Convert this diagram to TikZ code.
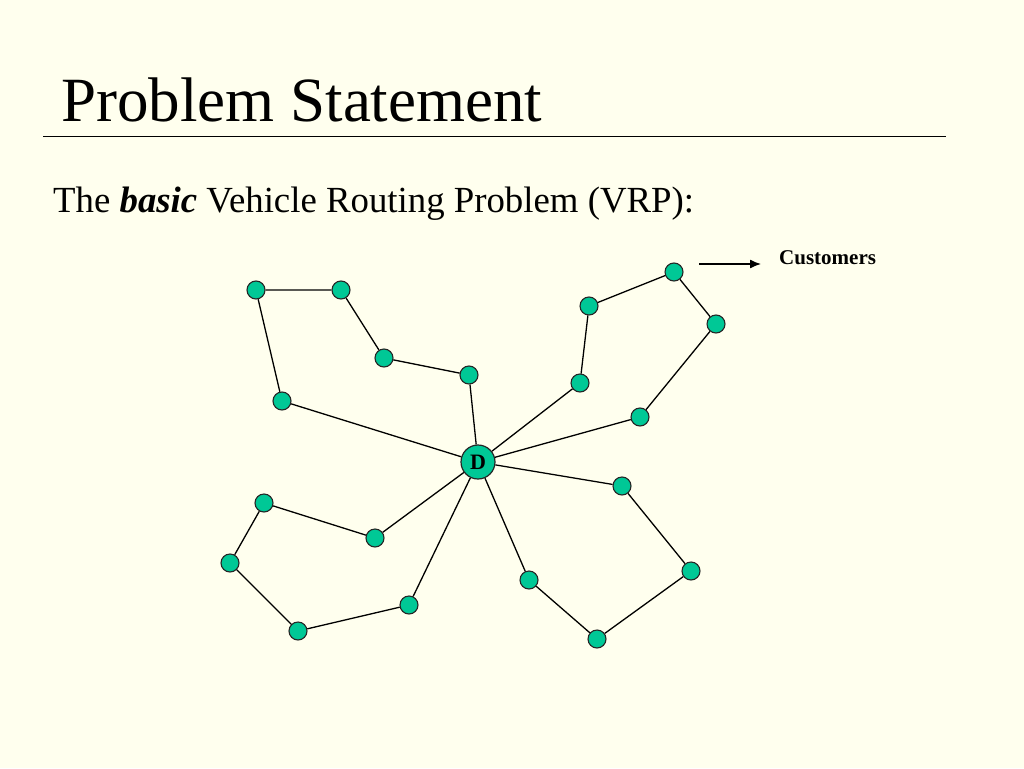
\documentclass[tikz,border=0pt]{standalone}
\usepackage{fontspec}
\setmainfont{Liberation Serif}
\usetikzlibrary{arrows.meta}
\definecolor{bg}{RGB}{255,255,238}
\definecolor{cust}{RGB}{0,200,150}
\tikzset{
  cnode/.style={circle,draw=black!85,fill=cust,line width=1.1pt,minimum size=18pt,inner sep=0pt},
  depot/.style={circle,draw=black!85,fill=cust,line width=1.2pt,minimum size=34pt,inner sep=0pt,font=\fontsize{22}{22}\selectfont\bfseries},
  edge/.style={line width=1.3pt,black}
}
\begin{document}
\begin{tikzpicture}[x=1pt,y=-1pt]
\fill[bg] (0,0) rectangle (1024,768);
\useasboundingbox (0,0) rectangle (1024,768);
\node[anchor=base west,inner sep=0pt,font=\fontsize{63}{63}\selectfont] (title) at (61,121) {Problem Statement};
\coordinate (l1) at (43,136);
\coordinate (l2) at (946,136);
\draw[line width=0.9pt] (l1) -- (l2);
\node[anchor=base west,inner sep=0pt,font=\fontsize{36.8}{36.8}\selectfont] (sub) at (53,212) {The \textbf{\textit{basic}} Vehicle Routing Problem (VRP):};
\node[anchor=base west,inner sep=0pt,font=\fontsize{21}{21}\selectfont\bfseries] (custlab) at (779,264) {Customers};
\coordinate (ar1) at (699,264);
\coordinate (ar2) at (761,264);
\draw[line width=1.3pt,-{Latex[length=11pt,width=9pt]}] (ar1) -- (ar2);
% depot
\node[depot] (D) at (478,462) {D};
% route A
\node[cnode] (a1) at (256,290) {};
\node[cnode] (a2) at (341,290) {};
\node[cnode] (a3) at (384,358) {};
\node[cnode] (a4) at (469,375) {};
\node[cnode] (a5) at (282,401) {};
% route B
\node[cnode] (b1) at (580,383) {};
\node[cnode] (b2) at (589,306) {};
\node[cnode] (b3) at (674,272) {};
\node[cnode] (b4) at (716,324) {};
\node[cnode] (b5) at (640,417) {};
% route C
\node[cnode] (c1) at (622,486) {};
\node[cnode] (c2) at (691,571) {};
\node[cnode] (c3) at (597,639) {};
\node[cnode] (c4) at (529,580) {};
% route D
\node[cnode] (d1) at (409,605) {};
\node[cnode] (d2) at (298,631) {};
\node[cnode] (d3) at (230,563) {};
\node[cnode] (d4) at (264,503) {};
\node[cnode] (d5) at (375,538) {};
\draw[edge] (D) -- (a4) -- (a3) -- (a2) -- (a1) -- (a5) -- (D);
\draw[edge] (D) -- (b1) -- (b2) -- (b3) -- (b4) -- (b5) -- (D);
\draw[edge] (D) -- (c1) -- (c2) -- (c3) -- (c4) -- (D);
\draw[edge] (D) -- (d1) -- (d2) -- (d3) -- (d4) -- (d5) -- (D);
\end{tikzpicture}
\end{document}
